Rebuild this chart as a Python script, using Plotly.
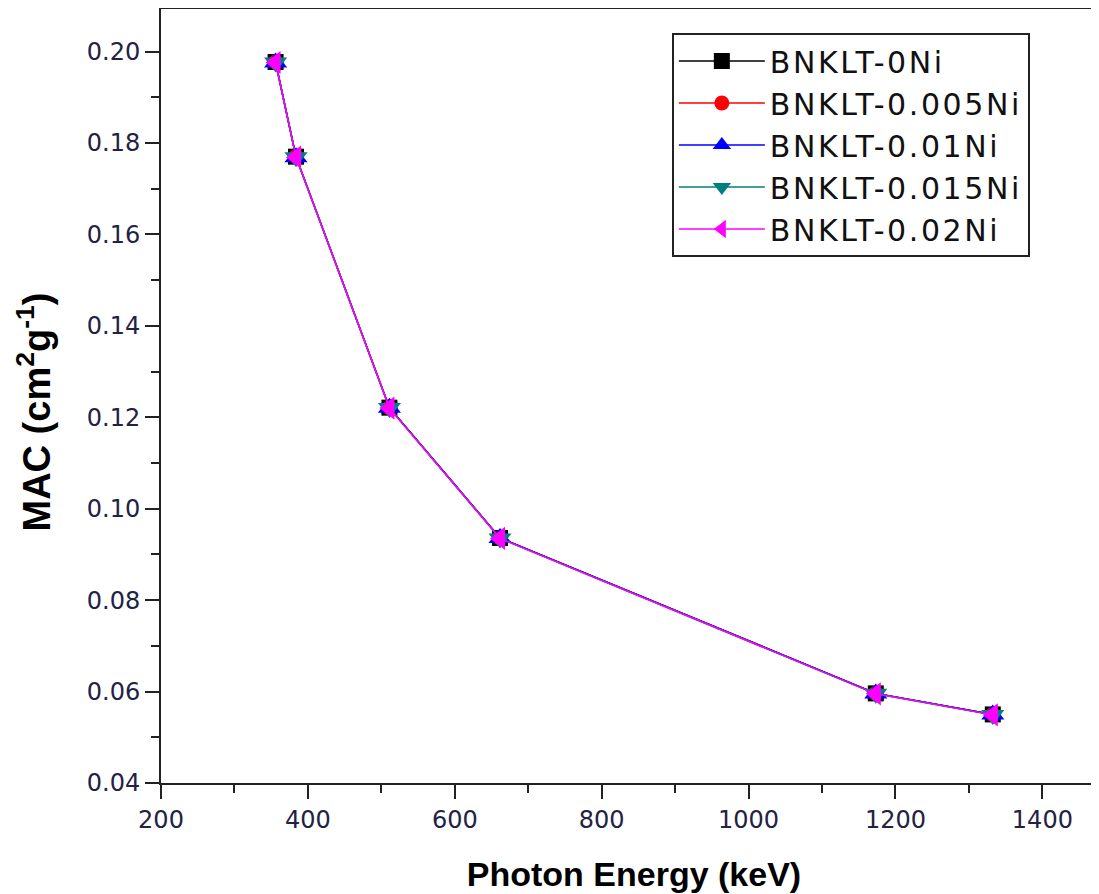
import plotly.graph_objects as go

energy = [356, 383.8, 511, 661.6, 1173.2, 1332.5]
mac_0ni = [0.1977, 0.1770, 0.1221, 0.0936, 0.0596, 0.0550]
mac_0005ni = [0.1977, 0.1770, 0.1221, 0.0936, 0.0596, 0.0550]
mac_001ni = [0.1976, 0.1769, 0.1221, 0.0936, 0.0596, 0.0550]
mac_0015ni = [0.1976, 0.1769, 0.1220, 0.0935, 0.0595, 0.0549]
mac_002ni = [0.1976, 0.1769, 0.1220, 0.0935, 0.0595, 0.0549]
x_ticks = [200, 400, 600, 800, 1000, 1200, 1400]
y_ticks = [0.04, 0.06, 0.08, 0.10, 0.12, 0.14, 0.16, 0.18, 0.20]
y_ticktext = ["0.04", "0.06", "0.08", "0.10", "0.12", "0.14", "0.16", "0.18", "0.20"]

series = [
    ("BNKLT-0Ni", mac_0ni, "#000000", "square", 16),
    ("BNKLT-0.005Ni", mac_0005ni, "#ff0000", "circle", 15),
    ("BNKLT-0.01Ni", mac_001ni, "#0000ff", "triangle-up", 20),
    ("BNKLT-0.015Ni", mac_0015ni, "#008080", "triangle-down", 20),
    ("BNKLT-0.02Ni", mac_002ni, "#ff00ff", "triangle-left", 20),
]

fig = go.Figure()
for name, vals, color, sym, size in series:
    fig.add_trace(go.Scatter(
        x=energy, y=vals,
        name='<span style="letter-spacing:2.6px">' + name + '</span>',
        mode="lines+markers",
        line=dict(color=color, width=1.5),
        marker=dict(symbol=sym, size=size, color=color, line=dict(width=0)),
    ))

tick_family = "DejaVu Sans, sans-serif"
title_family = "Liberation Sans, Arial, sans-serif"
axis_common = dict(
    showline=True, linecolor="#222222", linewidth=2,
    ticks="outside", ticklen=14, tickwidth=2, tickcolor="#222222",
    showgrid=False, zeroline=False, automargin=False,
    tickfont=dict(family=tick_family, size=24, color="#222244"),
)

fig.update_xaxes(
    range=[200, 1488], tickvals=x_ticks,
    minor=dict(ticks="outside", ticklen=8, tickwidth=2, tickcolor="#222222",
               tickvals=[300, 500, 700, 900, 1100, 1300]),
    mirror=True,
    title=dict(text="<b>Photon Energy (keV)</b>", standoff=29,
               font=dict(family=title_family, size=34, color="#000000")),
    **axis_common,
)
fig.update_yaxes(
    range=[0.04, 0.2093],
    tickvals=y_ticks, ticktext=y_ticktext,
    minor=dict(ticks="outside", ticklen=8, tickwidth=2, tickcolor="#222222",
               tickvals=[0.05, 0.07, 0.09, 0.11, 0.13, 0.15, 0.17, 0.19]),
    **axis_common,
)

fig.add_annotation(
    text="<b>MAC (cm<sup>2</sup>g<sup>-1</sup>)</b>",
    xref="paper", yref="paper", x=-0.134, y=0.479,
    xanchor="center", yanchor="middle", textangle=-90, showarrow=False,
    font=dict(family=title_family, size=38, color="#000000"),
)

fig.update_layout(
    width=1099, height=894,
    margin=dict(l=153, r=0, t=1, b=119),
    paper_bgcolor="white", plot_bgcolor="white",
    showlegend=True,
    legend=dict(
        x=0.540, y=0.969, xanchor="left", yanchor="top",
        bgcolor="white", bordercolor="#222222", borderwidth=2,
        font=dict(family=tick_family, size=30, color="#111111"),
        itemwidth=86, tracegroupgap=0,
    ),
)

fig.write_html("out.html")
